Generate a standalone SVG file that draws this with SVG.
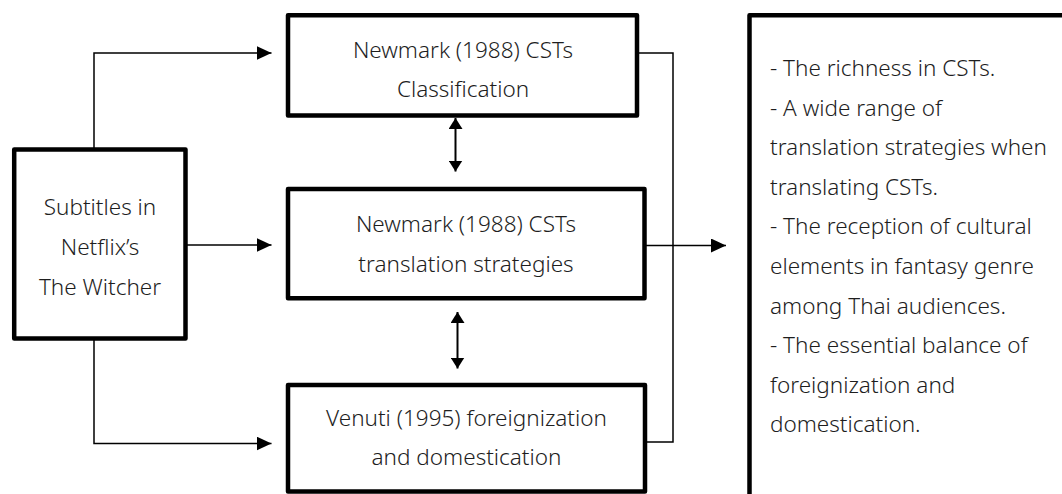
<svg xmlns="http://www.w3.org/2000/svg" width="1062" height="494" viewBox="0 0 1062 494">
<style>
.box{fill:#fff;stroke:#000;stroke-width:4.5;stroke-linejoin:round}
.t{font-family:"Noto Sans","Open Sans",sans-serif;font-size:22.5px;font-weight:300;fill:#1e1e1e}
.c{text-anchor:middle}
.ln{fill:none;stroke:#000;stroke-width:1.5}
.dbl{fill:none;stroke:#000;stroke-width:2}
</style>
<defs>
<marker id="ah" markerUnits="userSpaceOnUse" markerWidth="16" markerHeight="14" refX="15" refY="7" orient="auto-start-reverse">
<path d="M0,0 L15,7 L0,14 Z" fill="#000"/>
</marker>
<marker id="av" markerUnits="userSpaceOnUse" markerWidth="12" markerHeight="14" refX="11" refY="7" orient="auto-start-reverse">
<path d="M0,0 L11,7 L0,14 Z" fill="#000"/>
</marker>
</defs>
<rect width="1062" height="494" fill="#fff"/>
<g id="connectors">
<path class="ln" d="M94,149.5 V53 H271.5" marker-end="url(#ah)"/>
<path class="ln" d="M185.5,245 H271.5" marker-end="url(#ah)"/>
<path class="ln" d="M94,338.5 V443.5 H271.5" marker-end="url(#ah)"/>
<path class="ln" d="M637,53 H673 V442 H645"/>
<path class="ln" d="M645,245.5 H726" marker-end="url(#ah)"/>
<path class="dbl" d="M455.5,118 V171.5" marker-start="url(#av)" marker-end="url(#av)"/>
<path class="dbl" d="M457.5,312 V368.5" marker-start="url(#av)" marker-end="url(#av)"/>
</g>
<g id="source">
<rect class="box" x="14.2" y="149.5" width="171.3" height="189"/>
<text class="t c" x="100" y="215">Subtitles in</text>
<text class="t c" x="100" y="255">Netflix’s</text>
<text class="t c" x="100" y="295">The Witcher</text>
</g>
<g id="classification">
<rect class="box" x="288" y="15.3" width="349" height="100.2"/>
<text class="t c" x="463" y="57.5">Newmark (1988) CSTs</text>
<text class="t c" x="463" y="97">Classification</text>
</g>
<g id="strategies">
<rect class="box" x="288" y="189" width="356.5" height="109.3"/>
<text class="t c" x="466" y="232">Newmark (1988) CSTs</text>
<text class="t c" x="466" y="272">translation strategies</text>
</g>
<g id="venuti">
<rect class="box" x="288" y="385" width="357" height="106.5"/>
<text class="t c" x="466.5" y="426">Venuti (1995) foreignization</text>
<text class="t c" x="466.5" y="465">and domestication</text>
</g>
<g id="findings">
<rect class="box" x="749.5" y="15.3" width="400" height="520"/>
<text class="t" x="770" y="76">- The richness in CSTs.</text>
<text class="t" x="770" y="115.6">- A wide range of</text>
<text class="t" x="770" y="155.2">translation strategies when</text>
<text class="t" x="770" y="194.8">translating CSTs.</text>
<text class="t" x="770" y="234.4">- The reception of cultural</text>
<text class="t" x="770" y="274">elements in fantasy genre</text>
<text class="t" x="770" y="313.6">among Thai audiences.</text>
<text class="t" x="770" y="353.2">- The essential balance of</text>
<text class="t" x="770" y="392.8">foreignization and</text>
<text class="t" x="770" y="432.4">domestication.</text>
</g>
</svg>
